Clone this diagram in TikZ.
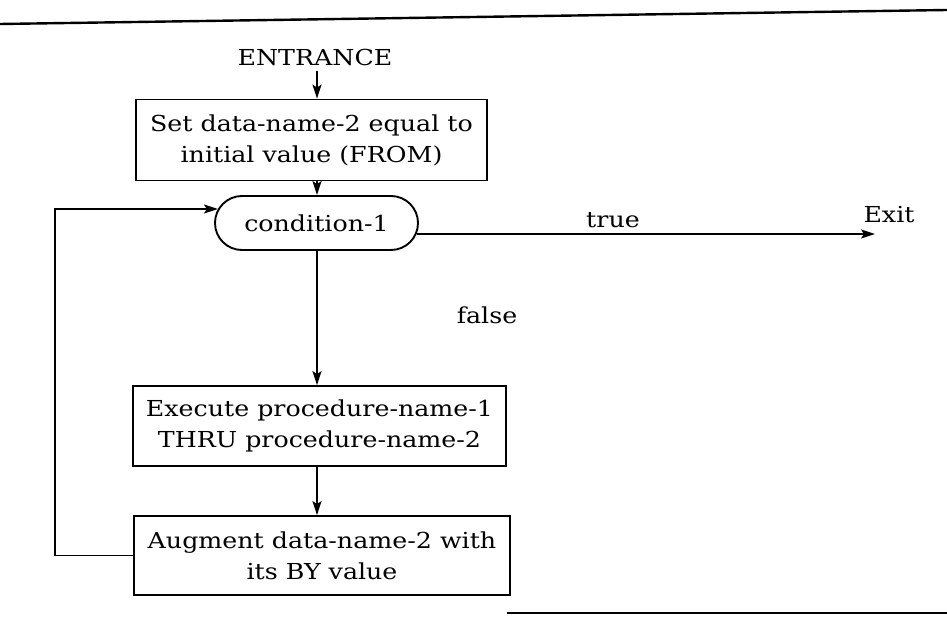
\documentclass[tikz,border=0pt]{standalone}
\usepackage{fontspec}
\setmainfont{DejaVu Serif}[FakeStretch=1.15]
\usetikzlibrary{arrows.meta,calc}

\begin{document}
\begin{tikzpicture}[x=1pt,y=-1pt,
  every node/.style={font=\fontsize{22}{31}\selectfont},
  stepbox/.style={draw,line width=1.8pt,inner sep=0pt,align=center},
  decision/.style={draw,line width=1.9pt,rounded corners=27pt,inner sep=0pt,
    minimum width=203pt,minimum height=54pt},
  label/.style={inner sep=0pt},
  arr/.style={line width=1.7pt,-{Stealth[length=14pt,width=9pt,inset=3pt]}},
  rule/.style={line width=2.4pt}]
\useasboundingbox (0,0) rectangle (947,620);

% page rules
\draw[rule] (0,24) -- (947,10);
\draw[rule,line width=2pt] (507,613) -- (947,613);

% flow chart nodes
\node[label] (entr) at (315,57) {ENTRANCE};
\node[stepbox,minimum width=351pt,minimum height=81pt] (box1) at (311.5,140)
  {Set data-name-2 equal to\\initial value (FROM)};
\node[decision] (cond) at (316.5,223) {condition-1};
\node[stepbox,minimum width=373pt,minimum height=80pt] (exec) at (319.5,426)
  {Execute procedure-name-1\\THRU procedure-name-2};
\node[stepbox,minimum width=376pt,minimum height=79pt] (aug) at (322,555.5)
  {Augment data-name-2 with\\its BY value};

\node[label] (truelbl) at (613,220) {true};
\node[label] (falselbl) at (487,315) {false};
\node[label] (exitlbl) at (889,215) {Exit};

% helper points
\coordinate (spine) at (317,0);
\coordinate (exitpt) at (875,234);
\coordinate (loopc) at (55,555.5);

% connectors
\draw[arr] ([yshift=-5pt]entr.south -| spine) -- (box1.north -| spine);
\draw[arr] (box1.south -| spine) -- (cond.north -| spine);
\draw[arr] ([xshift=-2.3pt,yshift=-11pt]cond.east) -- (exitpt);
\draw[arr] (cond.south -| spine) -- (exec.north -| spine);
\draw[arr] (exec.south -| spine) -- (aug.north -| spine);
\draw[arr] (aug.west) -- (loopc) |- ([xshift=3.9pt,yshift=14pt]cond.west);
\end{tikzpicture}
\end{document}
